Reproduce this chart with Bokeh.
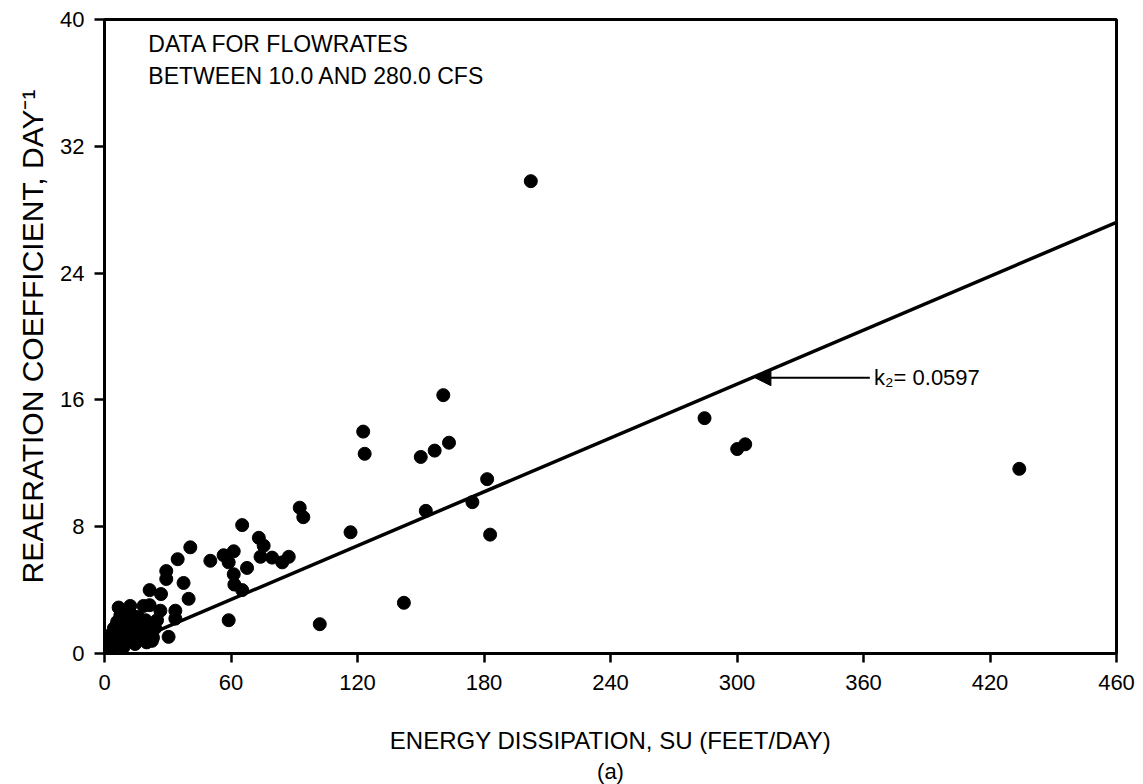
from bokeh.plotting import figure
from bokeh.models import FixedTicker, Label, Arrow, NormalHead, Title, Range1d
from bokeh.embed import file_html
from bokeh.resources import INLINE

# Energy dissipation SU (feet/day) and reaeration coefficient k2 (1/day)
su = [202.2, 160.7, 150.0, 156.6, 163.4, 181.5, 152.4, 174.5, 182.9, 142.0,
      122.7, 123.4, 92.6, 94.3, 116.7, 65.3, 40.7, 50.2, 56.5, 61.3,
      58.9, 73.2, 75.5, 74.0, 79.5, 84.3, 87.4, 67.6, 61.3, 61.6,
      65.3, 37.5, 39.9, 34.7, 58.9, 102.1, 284.6, 300.1, 303.9, 433.9,
      29.3, 29.3, 21.4, 26.8, 6.7, 12.2, 18.5, 21.4, 26.5, 33.6,
      33.6, 24.9, 30.4, 22.5,
      0.5, 1.0, 1.5, 2.0, 2.5, 3.0, 3.5, 4.0, 4.5, 5.0,
      5.5, 6.0, 6.5, 7.0, 7.5, 8.0, 8.5, 9.0, 9.5, 10.0,
      11.0, 11.5, 12.5, 13.0, 14.0, 14.5, 15.5, 16.0, 17.0, 17.5,
      18.5, 19.5, 20.0, 21.0, 23.0, 24.0]
k2 = [29.8, 16.3, 12.4, 12.8, 13.3, 11.0, 9.0, 9.55, 7.5, 3.2,
      14.0, 12.6, 9.2, 8.6, 7.65, 8.1, 6.7, 5.85, 6.2, 6.45,
      5.75, 7.3, 6.8, 6.1, 6.05, 5.75, 6.1, 5.4, 5.0, 4.35,
      4.0, 4.45, 3.45, 5.95, 2.1, 1.85, 14.85, 12.9, 13.2, 11.65,
      5.2, 4.7, 4.0, 3.75, 2.9, 3.0, 3.0, 3.05, 2.7, 2.7,
      2.2, 2.1, 1.05, 0.8,
      0.1, 0.4, 0.9, 0.2, 0.6, 1.2, 0.3, 0.8, 1.6, 0.5,
      1.1, 2.0, 0.7, 1.4, 2.4, 0.9, 1.8, 0.4, 1.3, 2.2,
      0.8, 1.6, 2.5, 1.1, 1.9, 0.6, 1.4, 2.3, 0.9, 1.8,
      1.2, 2.1, 0.7, 1.5, 1.0, 1.6]

# Fitted line (k2 = 0.0597 SU) as drawn on the chart
fit_x = [0, 480]
fit_y = [0, 27.2]

x_ticks = [0, 60, 120, 180, 240, 300, 360, 420, 480]
x_tick_labels = ["0", "60", "120", "180", "240", "300", "360", "420", "460"]
y_ticks = [0, 8, 16, 24, 32, 40]

FONT = "Liberation Sans"
INK = "black"

p = figure(width=1143, height=784, x_range=Range1d(0, 480), y_range=Range1d(0, 40),
           output_backend="svg", toolbar_location=None,
           min_border_left=104, min_border_right=27, min_border_top=19, min_border_bottom=131)

p.grid.visible = False
p.outline_line_color = INK
p.outline_line_width = 3
p.background_fill_color = "white"
p.border_fill_color = "white"

p.line(fit_x, fit_y, line_color=INK, line_width=3.5)
p.scatter(su, k2, size=13, fill_color=INK, line_color=INK)

xa = p.xaxis[0]
xa.ticker = FixedTicker(ticks=x_ticks)
xa.major_label_overrides = {t: l for t, l in zip(x_ticks, x_tick_labels)}
xa.axis_label = "ENERGY DISSIPATION, SU (FEET/DAY)"
xa.axis_label_text_font = FONT
xa.axis_label_text_font_size = "24px"
xa.axis_label_text_font_style = "normal"
xa.axis_label_text_color = INK
xa.axis_label_standoff = 34
xa.major_label_text_font = FONT
xa.major_label_text_font_size = "22px"
xa.major_label_text_color = INK
xa.major_label_standoff = 12
xa.major_tick_out = 9
xa.major_tick_in = 0
xa.minor_tick_out = 0
xa.minor_tick_in = 0
xa.axis_line_width = 3
xa.axis_line_color = INK
xa.major_tick_line_color = INK
xa.major_tick_line_width = 2.5

ya = p.yaxis[0]
ya.ticker = FixedTicker(ticks=y_ticks)
ya.axis_label = "REAERATION COEFFICIENT, DAY\u207b\u00b9"
ya.axis_label_text_font = FONT
ya.axis_label_text_font_size = "30px"
ya.axis_label_text_font_style = "normal"
ya.axis_label_text_color = INK
ya.axis_label_standoff = 8
ya.major_label_text_font = FONT
ya.major_label_text_font_size = "22px"
ya.major_label_text_color = INK
ya.major_label_standoff = 10
ya.major_tick_out = 10
ya.major_tick_in = 0
ya.minor_tick_out = 0
ya.minor_tick_in = 0
ya.axis_line_width = 3
ya.axis_line_color = INK
ya.major_tick_line_color = INK
ya.major_tick_line_width = 2.5

p.add_layout(Label(x=20.8, y=39.25, text="DATA FOR FLOWRATES", text_baseline="top",
                   text_font=FONT, text_font_size="23px", text_color=INK))
p.add_layout(Label(x=20.8, y=37.25, text="BETWEEN 10.0 AND 280.0 CFS", text_baseline="top",
                   text_font=FONT, text_font_size="23px", text_color=INK))

p.add_layout(Arrow(end=NormalHead(size=16, fill_color=INK, line_color=INK),
                   x_start=363, y_start=17.4, x_end=308.5, y_end=17.4,
                   line_color=INK, line_width=2))
p.add_layout(Label(x=365, y=17.4, text="k\u2082= 0.0597", text_baseline="middle",
                   text_font=FONT, text_font_size="22px", text_color=INK))

p.add_layout(Title(text="(a)", align="center", text_font=FONT, text_font_size="22px",
                   text_font_style="normal", text_color=INK, standoff=0), "below")

open("out.html", "w").write(file_html(p, INLINE))
